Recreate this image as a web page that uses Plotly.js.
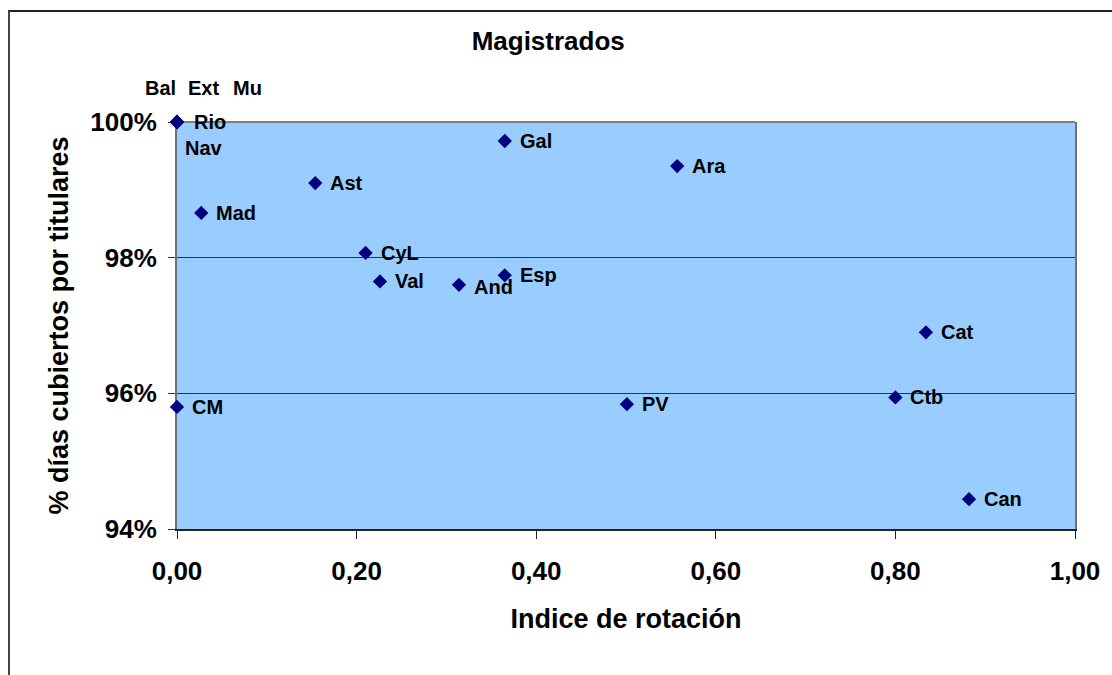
<!DOCTYPE html>
<html>
<head>
<meta charset="utf-8">
<script src="https://cdn.plot.ly/plotly-3.0.1.min.js"></script>
<style>
  html, body { margin: 0; padding: 0; background: #fff; }
  #wrap { position: relative; width: 1112px; height: 675px; overflow: hidden; }
  #chart { position: absolute; left: 0; top: 0; width: 1112px; height: 675px; }
  #frame { position: absolute; left: 8px; top: 10px; width: 1200px; height: 700px;
           border-top: 2px solid #222; border-left: 2px solid #444; pointer-events: none; }
</style>
</head>
<body>
<div id="wrap">
  <div id="chart"></div>
  <div id="frame"></div>
</div>
<script>
// Data
var regions = ['Gal', 'Ara', 'Ast', 'Mad', 'CyL', 'Val', 'And', 'Esp', 'Cat', 'CM', 'PV', 'Ctb', 'Can'];
var rotacion = [0.365, 0.557, 0.154, 0.027, 0.210, 0.226, 0.314, 0.365, 0.834, 0.000, 0.501, 0.800, 0.882];
var cubiertos = [0.9972, 0.9935, 0.9910, 0.9866, 0.9807, 0.9765, 0.9760, 0.9774, 0.9690, 0.9580, 0.9584, 0.9594, 0.9444];

// Regions that share the corner point (0, 100%)
var cornerRegions = ['Bal', 'Ext', 'Mu', 'Rio', 'Nav'];
var cornerX = [0, 0, 0, 0, 0];
var cornerY = [1, 1, 1, 1, 1];

var xTickVals = [0, 0.2, 0.4, 0.6, 0.8, 1.0];
var xTickText = ['0,00', '0,20', '0,40', '0,60', '0,80', '1,00'];
var yTickVals = [0.94, 0.96, 0.98, 1.00];
var yTickText = ['94%', '96%', '98%', '100%'];

var FONT = '"Liberation Sans", Arial, Helvetica, sans-serif';
var navy = '#000080';
var labelFont = { family: FONT, size: 20, color: '#000', weight: 700 };

var traceMain = {
  type: 'scatter', mode: 'markers',
  x: rotacion.concat(cornerX), y: cubiertos.concat(cornerY),
  text: regions.concat(cornerRegions),
  marker: { symbol: 'diamond', size: 11, color: navy },
  cliponaxis: false, hoverinfo: 'x+y+text', showlegend: false
};

// labels to the right of each point
var annotations = regions.map(function (r, i) {
  return {
    x: rotacion[i], y: cubiertos[i], xref: 'x', yref: 'y', text: r, showarrow: false,
    xanchor: 'left', yanchor: 'middle', xshift: 13, yshift: (r === 'And' ? -2 : 0),
    font: labelFont
  };
});

// label offsets (pixels) for the overlapping corner labels
var cornerShift = {
  Bal: [-17, 34], Ext: [26, 34], Mu: [70, 34], Rio: [33, 0], Nav: [27, -26]
};
cornerRegions.forEach(function (r, i) {
  annotations.push({
    x: cornerX[i], y: cornerY[i], xref: 'x', yref: 'y', text: r, showarrow: false,
    xshift: cornerShift[r][0], yshift: cornerShift[r][1],
    font: labelFont
  });
});

var layout = {
  width: 1112, height: 675,
  margin: { l: 177, r: 37, t: 122, b: 146 },
  paper_bgcolor: '#ffffff',
  plot_bgcolor: '#99CCFF',
  title: {
    text: 'Magistrados',
    font: { family: FONT, size: 26, color: '#000', weight: 700 },
    x: 0.493, xref: 'container', xanchor: 'center',
    y: 1 - 41 / 675, yref: 'container', yanchor: 'middle'
  },
  xaxis: {
    range: [0, 1], tickvals: xTickVals, ticktext: xTickText,
    showgrid: false, zeroline: false, layer: 'below traces',
    showline: true, linecolor: '#222', linewidth: 2,
    ticks: 'outside', ticklen: 8, tickcolor: '#222', tickwidth: 1,
    ticklabelstandoff: 10,
    tickfont: { family: FONT, size: 26, color: '#000', weight: 700 },
    title: { text: 'Indice de rotación', standoff: 24,
             font: { family: FONT, size: 27, color: '#000', weight: 700 } }
  },
  yaxis: {
    range: [0.94, 1.0], tickvals: yTickVals, ticktext: yTickText,
    showgrid: true, gridcolor: '#333', gridwidth: 1, zeroline: false, layer: 'below traces',
    showline: true, linecolor: '#707070', linewidth: 2, mirror: true,
    ticks: 'outside', ticklen: 7, tickcolor: '#333', tickwidth: 1,
    ticklabelstandoff: 6,
    tickfont: { family: FONT, size: 26, color: '#000', weight: 700 },
    title: { text: '% días cubiertos por titulares', standoff: 14,
             font: { family: FONT, size: 27, color: '#000', weight: 700 } }
  },
  shapes: [
    { type: 'line', xref: 'paper', yref: 'paper', x0: 0, x1: 1, y0: 1, y1: 1,
      line: { color: '#808080', width: 2 }, layer: 'below' }
  ],
  annotations: annotations
};

Plotly.newPlot('chart', [traceMain], layout, { displayModeBar: false, staticPlot: true });
</script>
</body>
</html>
